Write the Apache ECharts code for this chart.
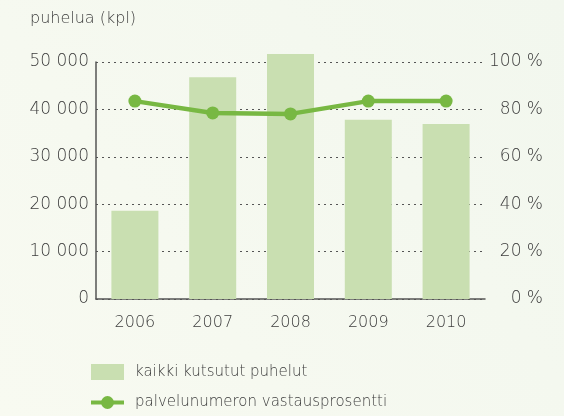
<!DOCTYPE html>
<html>
<head>
<meta charset="utf-8">
<script src="https://cdn.jsdelivr.net/npm/echarts@6/dist/echarts.min.js"></script>
<style>
  html, body { margin: 0; padding: 0; background: #f5f9ef; }
  #chart { width: 564px; height: 416px; }
</style>
</head>
<body>
<div id="chart"></div>
<script>
// years on the x axis
var years = ['2006', '2007', '2008', '2009', '2010'];
// all called calls (count)
var calls = [18600, 46800, 51700, 37800, 36900];
// answer rate of the service number (%)
var answerRate = [83.5, 78.5, 78.1, 83.5, 83.5];

var leftTicks = ['0', '10 000', '20 000', '30 000', '40 000', '50 000'];

var fontFamily = '"DejaVu Sans", sans-serif';
var textColor = '#3c3c3c';

var chart = echarts.init(document.getElementById('chart'));

var option = {
    backgroundColor: {
        type: 'linear', x: 0, y: 1, x2: 1, y2: 0,
        colorStops: [
            { offset: 0, color: '#f8faf1' },
            { offset: 1, color: '#f2f7ee' }
        ]
    },
    animation: false,
    title: {
        text: 'puhelua (kpl)',
        left: 25,
        top: 6,
        textStyle: {
            fontFamily: fontFamily,
            fontWeight: 200,
            fontSize: 16,
            color: textColor
        }
    },
    legend: {
        orient: 'vertical',
        left: 89,
        top: 364,
        padding: 0,
        itemWidth: 33,
        itemHeight: 16,
        itemGap: 15,
        textStyle: {
            fontFamily: fontFamily,
            fontWeight: 200,
            fontSize: 15,
            color: textColor,
            padding: [3, 0, 0, 6]
        },
        data: [
            { name: 'kaikki kutsutut puhelut', icon: 'rect' },
            { name: 'palvelunumeron vastausprosentti', lineStyle: { width: 4 } }
        ]
    },
    grid: {
        left: 96,
        right: 79,
        top: 62,
        bottom: 117
    },
    xAxis: {
        type: 'category',
        data: years,
        axisLine: { lineStyle: { color: '#555', width: 1.5 } },
        axisTick: { show: false },
        axisLabel: {
            margin: 16,
            fontFamily: fontFamily,
            fontWeight: 200,
            fontSize: 16,
            color: textColor
        }
    },
    yAxis: [
        {
            type: 'value',
            min: 0,
            max: 50000,
            interval: 10000,
            axisLine: { show: true, lineStyle: { color: '#555', width: 1.5 } },
            axisTick: { show: false },
            splitLine: {
                show: true,
                lineStyle: { color: '#555', type: [2, 4], width: 1 }
            },
            axisLabel: {
                margin: 7,
                fontFamily: fontFamily,
                fontWeight: 200,
                fontSize: 17,
                color: textColor,
                formatter: function (v) { return leftTicks[v / 10000]; }
            }
        },
        {
            type: 'value',
            min: 0,
            max: 100,
            interval: 20,
            position: 'right',
            axisLine: { show: false },
            axisTick: { show: false },
            splitLine: { show: false },
            axisLabel: {
                margin: 58,
                align: 'right',
                fontFamily: fontFamily,
                fontWeight: 200,
                fontSize: 17,
                color: textColor,
                formatter: '{value} %'
            }
        }
    ],
    series: [
        {
            name: 'kaikki kutsutut puhelut',
            type: 'bar',
            data: calls,
            barWidth: 47,
            clip: false,
            itemStyle: { color: '#c9dfb1' }
        },
        {
            name: 'palvelunumeron vastausprosentti',
            type: 'line',
            yAxisIndex: 1,
            data: answerRate,
            symbol: 'circle',
            symbolSize: 13,
            lineStyle: { color: '#78b843', width: 4.5 },
            itemStyle: { color: '#78b843' }
        }
    ]
};

chart.setOption(option);
</script>
</body>
</html>
